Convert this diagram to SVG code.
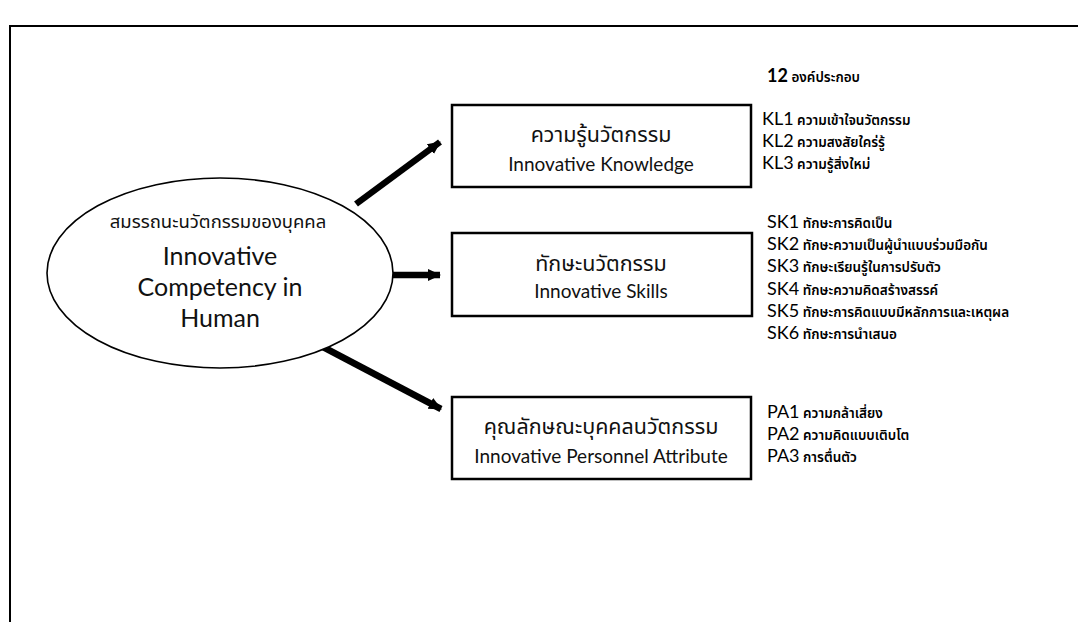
<svg xmlns="http://www.w3.org/2000/svg" width="1078" height="622" viewBox="0 0 1078 622">
  <style>
    .frame { fill: none; stroke: #000; stroke-width: 2; }
    .box { fill: #fff; stroke: #000; stroke-width: 2.5; }
    .oval { fill: #fff; stroke: #000; stroke-width: 1.6; }
    .link { stroke: #000; stroke-width: 6.5; fill: none; }
    .th { font-family: "Noto Sans Thai", "Noto Sans", "Lato", sans-serif; fill: #111; }
    .en { font-family: "Lato", "Open Sans", sans-serif; fill: #111; }
    .mid { text-anchor: middle; }
    .code { font-family: "Lato", "Open Sans", sans-serif; font-size: 18px; fill: #000; }
    .item { font-family: "Noto Sans Thai", "Noto Sans", sans-serif; font-size: 13.5px; font-weight: 600; fill: #000; }
  </style>
  <defs>
    <marker id="head" markerUnits="userSpaceOnUse" markerWidth="14" markerHeight="14" refX="12" refY="7" orient="auto">
      <path d="M0,1 L13,7 L0,13 Z" fill="#000"/>
    </marker>
  </defs>

  <rect width="1078" height="622" fill="#fff"/>

  <!-- page frame (top and left rules) -->
  <path class="frame" d="M1078,26 H10 V622"/>

  <!-- connectors -->
  <g id="connectors">
    <line class="link" x1="356" y1="204" x2="440" y2="142" marker-end="url(#head)"/>
    <line class="link" x1="393" y1="275" x2="440" y2="275" marker-end="url(#head)"/>
    <line class="link" x1="323" y1="347" x2="441" y2="409" marker-end="url(#head)"/>
  </g>

  <!-- central concept -->
  <g id="competency">
    <ellipse class="oval" cx="220" cy="273" rx="173" ry="95"/>
    <text class="th mid" x="218" y="228" font-size="18.5">สมรรถนะนวัตกรรมของบุคคล</text>
    <text class="en mid" x="220" y="265" font-size="25">Innovative</text>
    <text class="en mid" x="220" y="296" font-size="25">Competency in</text>
    <text class="en mid" x="220" y="327" font-size="25">Human</text>
  </g>

  <!-- knowledge -->
  <g id="knowledge">
    <rect class="box" x="452" y="105" width="299" height="82"/>
    <text class="th mid" x="601" y="142" font-size="21.5">ความรู้นวัตกรรม</text>
    <text class="en mid" x="601" y="171" font-size="19">Innovative Knowledge</text>
  </g>

  <!-- skills -->
  <g id="skills">
    <rect class="box" x="452" y="233" width="300" height="83"/>
    <text class="th mid" x="601" y="271" font-size="21.5">ทักษะนวัตกรรม</text>
    <text class="en mid" x="601" y="298" font-size="19">Innovative Skills</text>
  </g>

  <!-- personnel attribute -->
  <g id="attribute">
    <rect class="box" x="452" y="397" width="299" height="82"/>
    <text class="th mid" x="601" y="434" font-size="21.5">คุณลักษณะบุคคลนวัตกรรม</text>
    <text class="en mid" x="601" y="463" font-size="19">Innovative Personnel Attribute</text>
  </g>

  <!-- component lists -->
  <g id="components">
    <text x="767" y="82"><tspan class="code" font-weight="bold" font-size="15">12</tspan><tspan class="item"> องค์ประกอบ</tspan></text>
  </g>
  <g id="kl-list">
    <text x="762" y="125"><tspan class="code">KL1</tspan><tspan class="item"> ความเข้าใจนวัตกรรม</tspan></text>
    <text x="762" y="147"><tspan class="code">KL2</tspan><tspan class="item"> ความสงสัยใคร่รู้</tspan></text>
    <text x="762" y="169"><tspan class="code">KL3</tspan><tspan class="item"> ความรู้สิ่งใหม่</tspan></text>
  </g>
  <g id="sk-list">
    <text x="767" y="228"><tspan class="code">SK1</tspan><tspan class="item"> ทักษะการคิดเป็น</tspan></text>
    <text x="767" y="250"><tspan class="code">SK2</tspan><tspan class="item"> ทักษะความเป็นผู้นำแบบร่วมมือกัน</tspan></text>
    <text x="767" y="272"><tspan class="code">SK3</tspan><tspan class="item"> ทักษะเรียนรู้ในการปรับตัว</tspan></text>
    <text x="767" y="295"><tspan class="code">SK4</tspan><tspan class="item"> ทักษะความคิดสร้างสรรค์</tspan></text>
    <text x="767" y="317"><tspan class="code">SK5</tspan><tspan class="item"> ทักษะการคิดแบบมีหลักการและเหตุผล</tspan></text>
    <text x="767" y="339"><tspan class="code">SK6</tspan><tspan class="item"> ทักษะการนำเสนอ</tspan></text>
  </g>
  <g id="pa-list">
    <text x="767" y="418"><tspan class="code">PA1</tspan><tspan class="item"> ความกล้าเสี่ยง</tspan></text>
    <text x="767" y="440"><tspan class="code">PA2</tspan><tspan class="item"> ความคิดแบบเติบโต</tspan></text>
    <text x="767" y="462"><tspan class="code">PA3</tspan><tspan class="item"> การตื่นตัว</tspan></text>
  </g>
</svg>
